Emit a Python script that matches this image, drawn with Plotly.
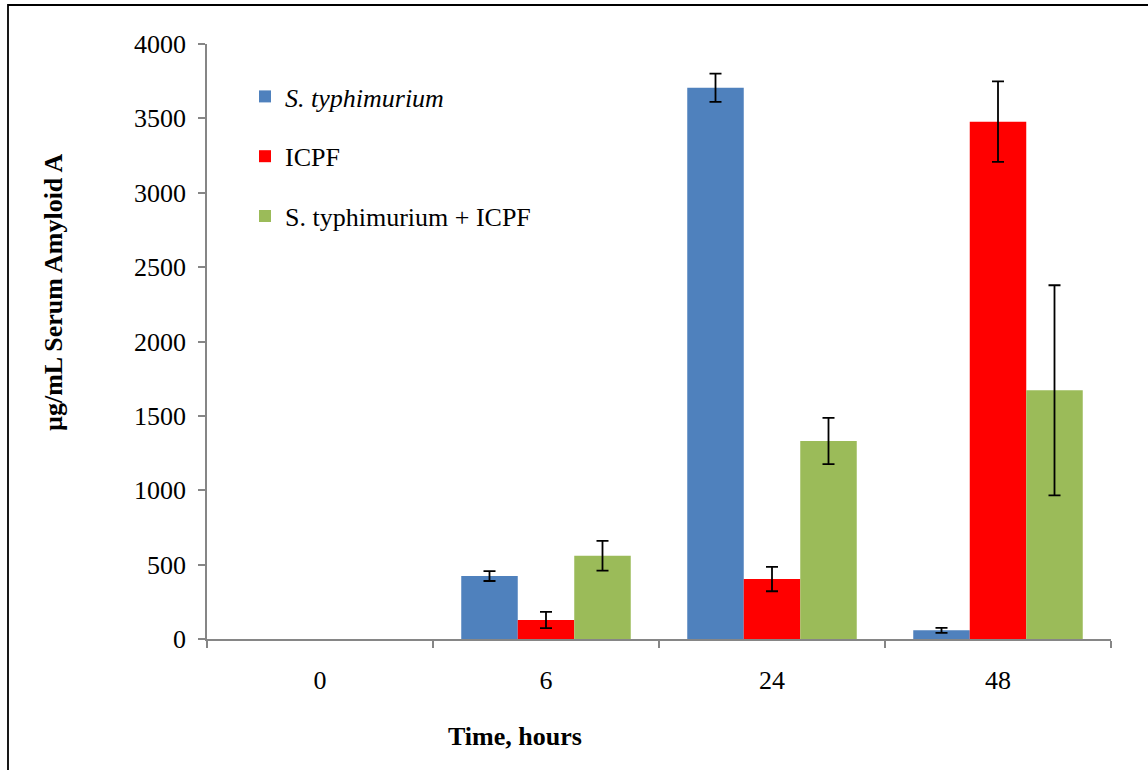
import plotly.graph_objects as go

# ---- data ----
hours = ["0", "6", "24", "48"]
series_names = ["<i>S. typhimurium</i>", "ICPF", "S. typhimurium + ICPF"]
s_typh = [None, 423, 3706, 58]
s_typh_err = [None, 33, 95, 17]
icpf = [None, 128, 403, 3478]
icpf_err = [None, 55, 82, 271]
combo = [None, 560, 1331, 1672]
combo_err = [None, 100, 156, 706]
colors = ["#4F81BD", "#FF0000", "#9BBB59"]
y_ticks = [0, 500, 1000, 1500, 2000, 2500, 3000, 3500, 4000]

FONT = "Liberation Serif"
FS = 26

fig = go.Figure()
for i, (name, vals, errs) in enumerate(zip(series_names, [s_typh, icpf, combo],
                                           [s_typh_err, icpf_err, combo_err])):
    fig.add_trace(go.Bar(
        x=hours, y=vals, name=name, legendgroup=f"g{i}",
        marker=dict(color=colors[i], line=dict(width=0)),
        error_y=dict(type="data", array=errs, visible=True,
                     color="black", thickness=1.8, width=6),
    ))

W, H = 1148, 770
L, R, T, B = 207, 37, 44, 131
pw, ph = W - L - R, H - T - B

def px(x):
    return (x - L) / pw

def py(y):
    return (H - B - y) / ph

fig.update_layout(
    width=W, height=H,
    margin=dict(l=L, r=R, t=T, b=B),
    paper_bgcolor="white", plot_bgcolor="white",
    barmode="group", bargap=0.25, bargroupgap=0,
    font=dict(family=FONT, size=FS, color="black"),
    showlegend=True,
    legend=dict(x=px(245), y=py(73), xanchor="left", yanchor="top",
                font=dict(family=FONT, size=FS, color="black"),
                traceorder="grouped", tracegroupgap=23,
                bgcolor="rgba(0,0,0,0)"),
    xaxis=dict(type="category", categoryorder="array", categoryarray=hours,
               showline=True, linecolor="#868686", linewidth=1.5,
               ticks="outside", tickson="boundaries", ticklen=7, tickwidth=1.5,
               tickcolor="#868686", showgrid=False, zeroline=False,
               ticklabelstandoff=17,
               tickfont=dict(family=FONT, size=FS, color="black")),
    yaxis=dict(range=[0, 4000], tickvals=y_ticks, showline=True, linecolor="#868686",
               linewidth=1.5, ticks="outside", ticklen=7, tickwidth=1.5,
               tickcolor="#868686", showgrid=False, zeroline=False,
               ticklabelstandoff=7,
               tickfont=dict(family=FONT, size=FS, color="black")),
    annotations=[
        dict(text="<b>Time, hours</b>", x=px(515), y=py(736), xref="paper", yref="paper",
             showarrow=False, xanchor="center", yanchor="middle",
             font=dict(family=FONT, size=FS, color="black")),
        dict(text="<b>µg/mL Serum Amyloid A</b>", x=px(53), y=py(293), xref="paper",
             yref="paper", showarrow=False, textangle=-90, xanchor="center",
             yanchor="middle", font=dict(family=FONT, size=FS, color="black")),
    ],
    shapes=[
        dict(type="rect", xref="paper", yref="paper", x0=px(8), x1=px(1160),
             y0=py(790), y1=py(5), line=dict(color="black", width=1.8),
             fillcolor="rgba(0,0,0,0)", layer="above"),
    ],
)

fig.write_html("out.html", config={"displayModeBar": False},
               post_script="document.body.style.margin='0px';")
